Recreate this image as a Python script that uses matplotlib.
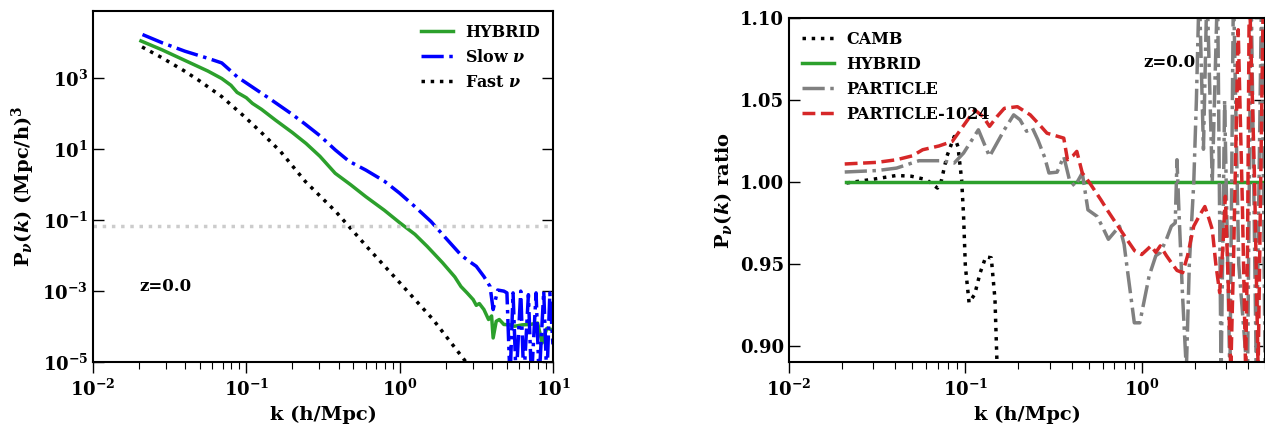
"""Neutrino power spectrum at z=0 and ratio to the hybrid run."""

import matplotlib

matplotlib.use("Agg")
import matplotlib.pyplot as plt
import matplotlib.ticker as mticker
import numpy as np

plt.rcParams["font.family"] = "DejaVu Serif"
plt.rcParams["font.weight"] = "bold"
plt.rcParams["axes.labelweight"] = "bold"
plt.rcParams["mathtext.fontset"] = "custom"
plt.rcParams["mathtext.rm"] = "DejaVu Serif:bold"
plt.rcParams["mathtext.bf"] = "DejaVu Serif:bold"
plt.rcParams["mathtext.it"] = "DejaVu Serif:italic:bold"

# ---- left panel: log10 k and log10 P_nu(k) ----
hybrid_logk = [-1.687, -1.55, -1.40, -1.25, -1.16, -1.10, -1.06, -1.00, -0.96, -0.90,
               -0.81, -0.70, -0.61, -0.52, -0.42, -0.32, -0.22, -0.10, 0.00, 0.10,
               0.18, 0.28, 0.36, 0.40, 0.44, 0.48, 0.50, 0.52, 0.55, 0.58,
               0.60, 0.61, 0.63, 0.65, 0.68, 0.72, 0.75, 0.80, 0.85, 0.90,
               0.93, 0.96, 1.00]
hybrid_logp = [4.05, 3.80, 3.50, 3.20, 2.99, 2.80, 2.60, 2.45, 2.29, 2.12,
               1.82, 1.47, 1.16, 0.80, 0.32, 0.00, -0.34, -0.72, -1.07, -1.40,
               -1.74, -2.20, -2.60, -2.87, -3.05, -3.24, -3.40, -3.35, -3.52, -3.80,
               -3.70, -4.32, -3.85, -3.80, -3.94, -3.95, -3.99, -3.95, -3.94, -3.90,
               -4.46, -4.05, -4.09]

slow_logk = [-1.677, -1.55, -1.40, -1.25, -1.16, -1.10, -1.06, -0.95, -0.85, -0.71,
             -0.62, -0.52, -0.42, -0.33, -0.22, -0.10, 0.00, 0.10, 0.205, 0.30,
             0.40, 0.45, 0.50, 0.55, 0.59, 0.61, 0.64, 0.68, 0.70, 0.72,
             0.74, 0.76, 0.79, 0.81, 0.84, 0.86, 0.89, 0.91, 0.94, 0.96,
             0.98, 1.00]
slow_logp = [4.23, 4.00, 3.76, 3.56, 3.43, 3.20, 3.04, 2.72, 2.43, 2.01,
             1.72, 1.38, 0.98, 0.66, 0.41, 0.10, -0.24, -0.62, -1.04, -1.50,
             -1.98, -2.15, -2.30, -2.59, -2.87, -3.52, -2.97, -3.00, -3.05, -5.5,
             -3.05, -5.5, -3.00, -5.5, -3.10, -5.5, -3.05, -5.5, -3.00, -5.5,
             -3.05, -4.5]

fast_logk = [-1.68, -1.56, -1.41, -1.31, -1.16, -1.01, -0.89, -0.776, -0.614, -0.416,
             -0.205, -0.006, 0.218, 0.43, 0.50]
fast_logp = [3.88, 3.60, 3.22, 2.94, 2.48, 1.91, 1.42, 0.93, 0.085, -0.76,
             -1.79, -2.73, -3.80, -4.98, -5.4]

shot_noise = 0.069

# ---- right panel: log10 k and P_nu ratio to HYBRID ----
hybrid_ratio_k = [0.021, 10.0]
hybrid_ratio = [1.0, 1.0]

camb_logk = [-1.674, -1.516, -1.39, -1.305, -1.22, -1.158, -1.137, -1.105, -1.063, -1.042,
             -1.021, -1.01, -1.0, -0.979, -0.947, -0.916, -0.884, -0.853, -0.832, -0.821,
             -0.80]
camb_ratio = [0.9994, 1.0018, 1.004, 1.0035, 1.0014, 0.9963, 1.0004, 1.0156, 1.0278, 1.0217,
              1.0014, 0.979, 0.9486, 0.9263, 0.9314, 0.9446, 0.9543, 0.9537, 0.9283, 0.8908,
              0.80]

particle_logk = [-1.684, -1.50, -1.39, -1.263, -1.137, -1.063, -1.01, -0.926, -0.863, -0.779,
                 -0.726, -0.69, -0.653, -0.62, -0.589, -0.55, -0.526, -0.48, -0.442, -0.41,
                 -0.379, -0.337, -0.305, -0.253, -0.22, -0.189, -0.15, -0.126, -0.10, -0.084,
                 -0.042, -0.011, 0.042, 0.08, 0.105, 0.14, 0.168, 0.19, 0.20, 0.21,
                 0.23, 0.253, 0.27, 0.295, 0.31, 0.326, 0.35, 0.37, 0.40, 0.43,
                 0.45, 0.47, 0.50, 0.52, 0.55, 0.60, 0.62, 0.65, 0.68, 0.70]
particle_ratio = [1.0061, 1.0070, 1.0085, 1.013, 1.013, 1.0116, 1.0177, 1.0319, 1.0156, 1.0319,
                  1.041, 1.038, 1.031, 1.033, 1.0258, 1.015, 1.0055, 1.006, 1.0156, 1.0014,
                  0.9974, 1.0055, 0.983, 0.979, 0.972, 0.965, 0.970, 0.973, 0.962, 0.9486,
                  0.914, 0.914, 0.9426, 0.955, 0.9568, 0.965, 0.973, 0.975, 1.0136, 0.985,
                  0.934, 0.885, 0.95, 0.9994, 1.05, 1.12, 1.02, 1.12, 1.00, 1.12,
                  0.88, 1.05, 0.88, 1.12, 0.95, 0.88, 1.12, 0.88, 1.12, 0.88]

p1024_logk = [-1.684, -1.50, -1.39, -1.30, -1.242, -1.15, -1.074, -1.00, -0.947, -0.90,
              -0.863, -0.82, -0.779, -0.705, -0.632, -0.58, -0.537, -0.48, -0.442, -0.421,
              -0.39, -0.368, -0.337, -0.295, -0.232, -0.19, -0.147, -0.084, -0.04, 0.0,
              0.053, 0.08, 0.105, 0.14, 0.168, 0.20, 0.232, 0.26, 0.295, 0.33,
              0.358, 0.38, 0.40, 0.42, 0.442, 0.46, 0.474, 0.49, 0.505, 0.52,
              0.547, 0.57, 0.589, 0.60, 0.61, 0.64, 0.66, 0.69]
p1024_ratio = [1.011, 1.012, 1.0136, 1.016, 1.0197, 1.022, 1.0248, 1.036, 1.044, 1.040,
               1.034, 1.040, 1.045, 1.046, 1.041, 1.035, 1.0298, 1.028, 1.0268, 1.0136,
               1.016, 1.0187, 1.0055, 0.9994, 0.9892, 0.982, 0.975, 0.9649, 0.958, 0.9557,
               0.961, 0.957, 0.961, 0.955, 0.9507, 0.946, 0.9446, 0.955, 0.973, 0.980,
               0.985, 0.978, 0.971, 0.950, 0.9324, 0.96, 0.9913, 0.94, 0.885, 0.95,
               1.093, 0.99, 0.885, 0.96, 1.12, 1.00, 0.885, 1.12]

GREEN = "#2ca02c"
RED = "#d62728"
LW = 2.5


def style_axis(ax):
    ax.tick_params(axis="y", which="both", direction="in", left=True, right=True,
                   length=8, width=1.0, labelsize=13)
    ax.tick_params(axis="x", which="major", direction="out", length=8, width=1.0,
                   labelsize=13, pad=4)
    ax.tick_params(axis="x", which="minor", direction="out", length=5, width=0.8)
    for spine in ax.spines.values():
        spine.set_linewidth(1.5)
    ax.set_xlabel("k (h/Mpc)", fontsize=14)


def power_panel(ax):
    ax.plot(np.power(10.0, hybrid_logk), np.power(10.0, hybrid_logp), color=GREEN,
            lw=LW, label="HYBRID")
    ax.plot(np.power(10.0, slow_logk), np.power(10.0, slow_logp), color="blue",
            lw=LW, ls="-.", label=r"Slow $\nu$")
    ax.plot(np.power(10.0, fast_logk), np.power(10.0, fast_logp), color="black",
            lw=LW, ls=":", label=r"Fast $\nu$")
    ax.axhline(shot_noise, color="#cccccc", lw=2.5, ls=":")
    ax.set_xscale("log")
    ax.set_yscale("log")
    ax.set_xlim(1e-2, 1e1)
    ax.set_ylim(1e-5, 7.8e4)
    ax.yaxis.set_major_locator(mticker.FixedLocator([1e-5, 1e-3, 1e-1, 1e1, 1e3]))
    ax.yaxis.set_minor_locator(mticker.NullLocator())
    style_axis(ax)
    ax.set_ylabel(r"P$_\nu(k)$ (Mpc/h)$^3$", fontsize=14)
    ax.text(0.10, 0.214, "z=0.0", transform=ax.transAxes, fontsize=12,
            fontweight="bold", va="center")
    ax.legend(loc="upper right", frameon=False, fontsize=11.5, handlelength=2.0,
              borderaxespad=0.4)


def ratio_panel(ax):
    ax.plot(np.power(10.0, camb_logk), camb_ratio, color="black", lw=LW, ls=":",
            label="CAMB")
    ax.plot(hybrid_ratio_k, hybrid_ratio, color=GREEN, lw=LW, label="HYBRID")
    ax.plot(np.power(10.0, particle_logk), particle_ratio, color="gray", lw=LW,
            ls="-.", label="PARTICLE")
    ax.plot(np.power(10.0, p1024_logk), p1024_ratio, color=RED, lw=LW, ls="--",
            label="PARTICLE-1024")
    ax.set_xscale("log")
    ax.set_xlim(1e-2, 5.0)
    ax.set_ylim(0.89, 1.10)
    ax.set_yticks([0.90, 0.95, 1.00, 1.05, 1.10])
    ax.yaxis.set_major_formatter(mticker.FormatStrFormatter("%.2f"))
    style_axis(ax)
    ax.set_ylabel(r"P$_\nu(k)$ ratio", fontsize=14)
    ax.text(0.744, 0.872, "z=0.0", transform=ax.transAxes, fontsize=12,
            fontweight="bold", va="center")
    ax.legend(loc="upper left", frameon=False, fontsize=11.5, handlelength=2.0,
              borderaxespad=0.4)


def main():
    fig = plt.figure(figsize=(12.65, 4.25), dpi=100)
    ax_p = fig.add_axes([0.0735, 0.148, 0.3636, 0.826])
    ax_r = fig.add_axes([0.6237, 0.148, 0.3763, 0.809])
    power_panel(ax_p)
    ratio_panel(ax_r)
    fig.savefig("out.png", dpi=100)
    plt.close(fig)


if __name__ == "__main__":
    main()
